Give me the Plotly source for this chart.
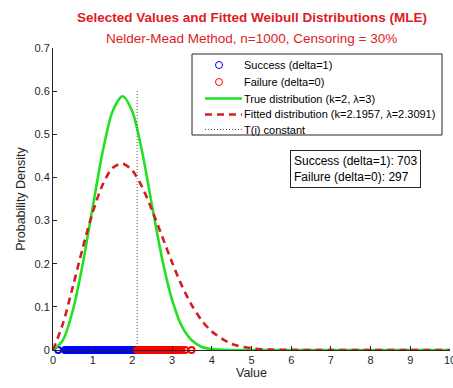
import plotly.graph_objects as go

# ---- data ----
x_grid = [0, 0.25, 0.5, 0.75, 1.0, 1.25, 1.5, 1.75, 2.0, 2.25, 2.5, 2.75, 3.0, 3.25,
          3.5, 3.75, 4.0, 4.5, 5.0, 5.5, 6.0, 7.0, 8.0, 9.0, 10.0]
true_pdf = [0, 0.023, 0.092, 0.200, 0.331, 0.459, 0.553, 0.588, 0.552, 0.457, 0.332,
            0.211, 0.116, 0.054, 0.022, 0.007, 0.002, 0.0001, 0, 0, 0, 0, 0, 0, 0]
fit_pdf = [0, 0.061, 0.147, 0.237, 0.319, 0.383, 0.422, 0.432, 0.416, 0.377, 0.323,
           0.263, 0.203, 0.148, 0.103, 0.068, 0.043, 0.014, 0.004, 0.0008, 0.0002,
           0, 0, 0, 0]

success_x = [0.13, 0.30, 0.33, 0.37, 0.41, 0.45, 0.49, 0.53, 0.57, 0.61, 0.65,
             0.69, 0.73, 0.77, 0.81, 0.85, 0.89, 0.93, 0.97, 1.01, 1.05, 1.09, 1.13,
             1.17, 1.21, 1.25, 1.29, 1.33, 1.37, 1.41, 1.45, 1.49, 1.53, 1.57, 1.61,
             1.65, 1.69, 1.73, 1.77, 1.81, 1.85, 1.89, 1.93, 1.97, 2.01, 2.05, 2.09]
failure_x = [2.12, 2.16, 2.20, 2.24, 2.28, 2.32, 2.36, 2.40, 2.44, 2.48, 2.52, 2.56,
             2.60, 2.64, 2.68, 2.72, 2.76, 2.80, 2.84, 2.88, 2.92, 2.96, 3.00, 3.04,
             3.08, 3.12, 3.16, 3.20, 3.24, 3.33, 3.49]
t_const = 2.12
t_line_top = 0.603
n_success = 703
n_failure = 297

legend_labels = ["Success (delta=1)", "Failure (delta=0)", "True distribution (k=2, λ=3)",
                 "Fitted distribution (k=2.1957, λ=2.3091)", "T(i) constant"]

FONT = "Liberation Sans, Arial, Helvetica, sans-serif"
AX = "#262626"
BLUE = "#0000ff"
RED = "#ff0000"
GREEN = "#22e022"
DRED = "#d41e24"
GRAY = "#555555"

W, H = 453, 388
L, R, T, B = 53, 3, 48, 38
PW, PH = W - L - R, H - T - B


def px(xp):
    return (xp - L) / PW


def py(yp):
    return (H - B - yp) / PH


fig = go.Figure()
fig.add_trace(go.Scatter(
    x=success_x, y=[0] * len(success_x), mode="markers", name=legend_labels[0],
    marker=dict(symbol="circle-open", size=6, color=BLUE, line=dict(width=1.8)),
    cliponaxis=False, showlegend=False))
fig.add_trace(go.Scatter(
    x=failure_x, y=[0] * len(failure_x), mode="markers", name=legend_labels[1],
    marker=dict(symbol="circle-open", size=6, color=RED, line=dict(width=1.8)),
    cliponaxis=False, showlegend=False))
fig.add_trace(go.Scatter(
    x=x_grid, y=true_pdf, mode="lines", name=legend_labels[2],
    line=dict(color=GREEN, width=2.6, shape="spline", smoothing=0.8), showlegend=False))
fig.add_trace(go.Scatter(
    x=x_grid, y=fit_pdf, mode="lines", name=legend_labels[3],
    line=dict(color=DRED, width=2.6, dash="7px,5px", shape="spline", smoothing=0.8),
    showlegend=False))
fig.add_trace(go.Scatter(
    x=[t_const, t_const], y=[0, t_line_top], mode="lines", name=legend_labels[4],
    line=dict(color=GRAY, width=1, dash="1px,2px"), showlegend=False))

# ---- legend box drawn with shapes/annotations (MATLAB-like compact rows) ----
shapes = [dict(type="rect", xref="paper", yref="paper",
               x0=px(192), x1=px(442), y0=py(135), y1=py(54),
               line=dict(color=AX, width=1), fillcolor="white", layer="above")]
rows = [65, 82, 98.5, 114.5, 129.5]
annotations = []
for i, (lab, ry) in enumerate(zip(legend_labels, rows)):
    if i < 2:
        shapes.append(dict(type="circle", xref="paper", yref="paper",
                           xsizemode="pixel", ysizemode="pixel",
                           xanchor=px(219), yanchor=py(ry),
                           x0=-3.5, x1=3.5, y0=-3.5, y1=3.5,
                           line=dict(color=[BLUE, RED][i], width=1), layer="above"))
    else:
        style = [dict(color=GREEN, width=2.6),
                 dict(color=DRED, width=2.6, dash="7px,5px"),
                 dict(color=GRAY, width=1, dash="1px,2px")][i - 2]
        shapes.append(dict(type="line", xref="paper", yref="paper",
                           x0=px(205), x1=px(242), y0=py(ry), y1=py(ry),
                           line=style, layer="above"))
    annotations.append(dict(text=lab, xref="paper", yref="paper",
                            x=px(242), y=py(ry), xanchor="left", yanchor="middle",
                            showarrow=False, font=dict(size=11, color="#000000")))

annotations += [
    dict(text="<b>Selected Values and Fitted Weibull Distributions (MLE)</b>",
         xref="paper", yref="paper", x=0.5, y=py(18),
         xanchor="center", yanchor="middle", showarrow=False,
         font=dict(size=13.5, color="#dd1c24")),
    dict(text="Nelder-Mead Method, n=1000, Censoring = 30%",
         xref="paper", yref="paper", x=0.5, y=py(38),
         xanchor="center", yanchor="middle", showarrow=False,
         font=dict(size=13.5, color="#dd1c24")),
    dict(text=f"Success (delta=1): {n_success}<br>Failure (delta=0): {n_failure}",
         xref="paper", yref="paper", x=px(290), y=py(150),
         xanchor="left", yanchor="top", align="left", showarrow=False,
         bgcolor="white", bordercolor=AX, borderwidth=1, borderpad=3,
         font=dict(size=12, color="#000000")),
]

fig.update_layout(
    width=W, height=H,
    margin=dict(l=L, r=R, t=T, b=B),
    paper_bgcolor="white", plot_bgcolor="white",
    font=dict(family=FONT, size=11, color=AX),
    showlegend=False,
    xaxis=dict(
        range=[0, 10], dtick=1, showgrid=False, zeroline=False, automargin=False,
        showline=True, linecolor=AX, linewidth=1,
        ticks="inside", ticklen=4, tickcolor=AX, ticklabeloverflow="allow",
        tickfont=dict(size=11, color=AX),
        title=dict(text="Value", font=dict(size=12.5, color=AX), standoff=2),
    ),
    yaxis=dict(
        range=[0, 0.7], dtick=0.1, showgrid=False, zeroline=False, automargin=False,
        showline=True, linecolor=AX, linewidth=1,
        ticks="inside", ticklen=4, tickcolor=AX, ticklabeloverflow="allow",
        tickfont=dict(size=11, color=AX),
        title=dict(text="Probability Density", font=dict(size=12.5, color=AX), standoff=6),
    ),
    shapes=shapes,
    annotations=annotations,
)

fig.write_html("out.html", config={"displayModeBar": False},
               post_script="document.body.style.margin='0';document.body.style.padding='0';")
